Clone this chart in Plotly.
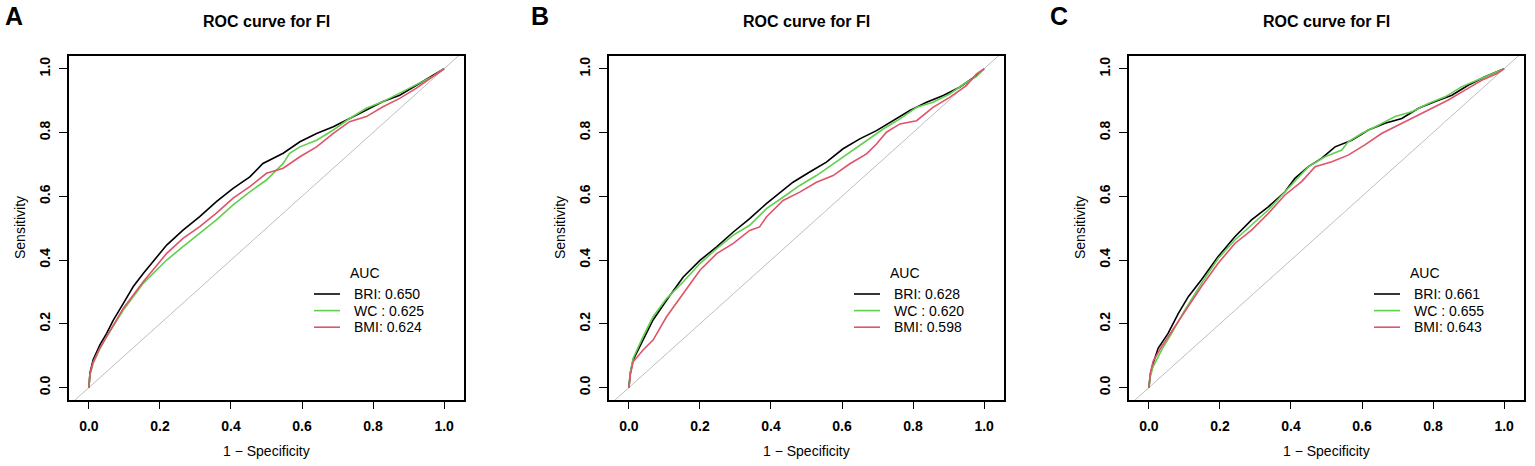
import plotly.graph_objects as go

FIG_W = 1535
FIG_H = 466
FONT = "Liberation Sans, Arial, Helvetica, sans-serif"

PANEL_LABELS = ["A", "B", "C"]
TITLE = "ROC curve for FI"
SERIES_NAMES = ["BRI", "WC ", "BMI"]
SERIES_COLORS = ["#000000", "#61D04F", "#DF536B"]

AUC_A = [0.650, 0.625, 0.624]
AUC_B = [0.628, 0.620, 0.598]
AUC_C = [0.661, 0.655, 0.643]

TICK_VALS = [0.0, 0.2, 0.4, 0.6, 0.8, 1.0]
TICK_TEXT = ["0.0", "0.2", "0.4", "0.6", "0.8", "1.0"]
DIAG = [-0.2, 1.2]

# panel A (1 - specificity, sensitivity)
A_BRI_X = [0, 0.003, 0.012, 0.022, 0.031, 0.05, 0.068, 0.097, 0.125, 0.153, 0.19, 0.219,
           0.265, 0.312, 0.359, 0.406, 0.453, 0.49, 0.547, 0.594, 0.641, 0.688, 0.734,
           0.781, 0.828, 0.875, 0.922, 0.969, 1]
A_BRI_Y = [0, 0.045, 0.087, 0.113, 0.134, 0.17, 0.21, 0.264, 0.317, 0.358, 0.41, 0.447,
           0.494, 0.536, 0.583, 0.625, 0.661, 0.703, 0.735, 0.771, 0.797, 0.818, 0.844,
           0.870, 0.897, 0.917, 0.949, 0.980, 1]
A_WC_X = [0, 0.003, 0.012, 0.03, 0.05, 0.097, 0.153, 0.219, 0.265, 0.312, 0.359, 0.406,
          0.453, 0.5, 0.547, 0.565, 0.594, 0.641, 0.688, 0.734, 0.781, 0.828, 0.875, 0.922,
          0.969, 1]
A_WC_Y = [0, 0.04, 0.076, 0.12, 0.16, 0.243, 0.327, 0.40, 0.442, 0.484, 0.526, 0.573,
          0.614, 0.651, 0.703, 0.735, 0.755, 0.776, 0.808, 0.844, 0.876, 0.897, 0.923,
          0.949, 0.977, 1]
A_BMI_X = [0, 0.003, 0.012, 0.03, 0.05, 0.097, 0.153, 0.219, 0.265, 0.312, 0.359, 0.406,
           0.453, 0.5, 0.547, 0.594, 0.641, 0.688, 0.734, 0.781, 0.828, 0.875, 0.922,
           0.969, 1]
A_BMI_Y = [0, 0.042, 0.08, 0.122, 0.16, 0.249, 0.332, 0.421, 0.468, 0.505, 0.547, 0.594,
           0.630, 0.672, 0.688, 0.724, 0.755, 0.797, 0.834, 0.85, 0.881, 0.907, 0.939,
           0.975, 1]

# panel B
B_BRI_X = [0, 0.004, 0.012, 0.04, 0.068, 0.106, 0.153, 0.2, 0.247, 0.294, 0.34, 0.387,
           0.434, 0.462, 0.509, 0.556, 0.603, 0.65, 0.697, 0.744, 0.791, 0.838, 0.885,
           0.931, 0.978, 1]
B_BRI_Y = [0, 0.045, 0.087, 0.149, 0.212, 0.274, 0.347, 0.399, 0.441, 0.488, 0.53, 0.577,
           0.618, 0.644, 0.676, 0.707, 0.749, 0.78, 0.806, 0.837, 0.869, 0.895, 0.916,
           0.942, 0.978, 1]
B_WC_X = [0, 0.004, 0.012, 0.04, 0.068, 0.106, 0.153, 0.2, 0.247, 0.294, 0.34, 0.387,
          0.434, 0.481, 0.528, 0.575, 0.622, 0.669, 0.716, 0.763, 0.81, 0.856, 0.903, 0.95,
          0.978, 1]
B_WC_Y = [0, 0.048, 0.092, 0.16, 0.222, 0.279, 0.332, 0.389, 0.436, 0.478, 0.509, 0.561,
          0.597, 0.634, 0.665, 0.702, 0.738, 0.775, 0.811, 0.843, 0.879, 0.895, 0.921,
          0.957, 0.975, 1]
B_BMI_X = [0, 0.004, 0.012, 0.04, 0.068, 0.106, 0.153, 0.2, 0.247, 0.294, 0.34, 0.368,
           0.387, 0.434, 0.481, 0.528, 0.575, 0.622, 0.669, 0.697, 0.725, 0.763, 0.81,
           0.856, 0.903, 0.95, 0.978, 1]
B_BMI_Y = [0, 0.04, 0.081, 0.118, 0.149, 0.222, 0.295, 0.368, 0.42, 0.452, 0.493, 0.504,
           0.535, 0.587, 0.613, 0.644, 0.665, 0.702, 0.733, 0.764, 0.801, 0.827, 0.837,
           0.879, 0.91, 0.947, 0.983, 1]

# panel C
C_BRI_X = [0, 0.004, 0.012, 0.026, 0.054, 0.083, 0.111, 0.148, 0.195, 0.242, 0.289, 0.336,
           0.383, 0.411, 0.449, 0.486, 0.524, 0.571, 0.618, 0.665, 0.712, 0.759, 0.806,
           0.853, 0.9, 0.946, 1]
C_BRI_Y = [0, 0.04, 0.076, 0.123, 0.17, 0.233, 0.285, 0.338, 0.411, 0.473, 0.526, 0.567,
           0.614, 0.656, 0.693, 0.719, 0.755, 0.776, 0.808, 0.829, 0.844, 0.876, 0.897,
           0.917, 0.949, 0.975, 1]
C_WC_X = [0, 0.004, 0.012, 0.036, 0.064, 0.101, 0.148, 0.195, 0.242, 0.289, 0.336, 0.383,
          0.421, 0.449, 0.496, 0.543, 0.561, 0.599, 0.646, 0.693, 0.74, 0.787, 0.834,
          0.881, 0.937, 1]
C_WC_Y = [0, 0.035, 0.066, 0.118, 0.17, 0.243, 0.327, 0.405, 0.463, 0.51, 0.557, 0.614,
          0.661, 0.693, 0.724, 0.745, 0.771, 0.797, 0.823, 0.85, 0.865, 0.891, 0.912,
          0.944, 0.97, 1]
C_BMI_X = [0, 0.004, 0.012, 0.036, 0.064, 0.101, 0.148, 0.195, 0.242, 0.289, 0.336, 0.383,
           0.43, 0.468, 0.515, 0.561, 0.608, 0.655, 0.702, 0.749, 0.796, 0.843, 0.89,
           0.937, 0.98, 1]
C_BMI_Y = [0, 0.045, 0.082, 0.129, 0.176, 0.238, 0.317, 0.39, 0.452, 0.494, 0.546, 0.604,
           0.646, 0.693, 0.708, 0.729, 0.761, 0.797, 0.823, 0.85, 0.876, 0.902, 0.933,
           0.964, 0.985, 1]

PANELS = [
    ([(A_BRI_X, A_BRI_Y), (A_WC_X, A_WC_Y), (A_BMI_X, A_BMI_Y)], AUC_A),
    ([(B_BRI_X, B_BRI_Y), (B_WC_X, B_WC_Y), (B_BMI_X, B_BMI_Y)], AUC_B),
    ([(C_BRI_X, C_BRI_Y), (C_WC_X, C_WC_Y), (C_BMI_X, C_BMI_Y)], AUC_C),
]

# layout in pixels of the 1535x466 page
BOX_LEFT = [69, 609, 1129]
BOX_W = 395
BOX_TOP = 56
BOX_BOTTOM = 400
LETTER_X = [14, 540, 1059]
X_RANGE = [-0.056, 1.056]
Y_RANGE = [-0.039, 1.04]


def px(x):
    return x / FIG_W


def py(y):
    return 1 - y / FIG_H


fig = go.Figure()
annotations = []
shapes = []
layout_axes = {}

for i, (curves, aucs) in enumerate(PANELS):
    suffix = "" if i == 0 else str(i + 1)
    xref = "x" + suffix
    yref = "y" + suffix
    left = BOX_LEFT[i]

    fig.add_trace(
        go.Scatter(
            x=DIAG, y=DIAG, mode="lines", xaxis=xref, yaxis=yref,
            line={"color": "#BEBEBE", "width": 1}, showlegend=False,
            hoverinfo="skip",
        )
    )
    for (xs, ys), name, color in zip(curves, SERIES_NAMES, SERIES_COLORS):
        fig.add_trace(
            go.Scatter(
                x=xs, y=ys, mode="lines", name=name.strip(), xaxis=xref, yaxis=yref,
                line={"color": color, "width": 1.6}, showlegend=False,
            )
        )

    axis_common = dict(
        tickvals=TICK_VALS,
        ticktext=TICK_TEXT,
        ticks="outside",
        tickwidth=1.3,
        tickcolor="black",
        showline=True,
        linecolor="black",
        linewidth=1.5,
        mirror=True,
        showgrid=False,
        zeroline=False,
        fixedrange=True,
        tickfont={"family": FONT, "size": 14, "color": "black", "weight": "bold"},
    )
    layout_axes["xaxis" + suffix] = dict(
        axis_common,
        domain=[px(left), px(left + BOX_W)],
        range=X_RANGE,
        anchor=yref,
        ticklen=7,
        ticklabelstandoff=5,
    )
    layout_axes["yaxis" + suffix] = dict(
        axis_common,
        domain=[py(BOX_BOTTOM), py(BOX_TOP)],
        range=Y_RANGE,
        anchor=xref,
        ticklen=8,
        tickangle=-90,
        ticklabelstandoff=4,
    )

    center_x = left + BOX_W / 2
    annotations.append(dict(
        text="<b>" + TITLE + "</b>", x=px(center_x), y=py(22),
        font={"size": 16}, xanchor="center", yanchor="middle",
    ))
    annotations.append(dict(
        text="<b>" + PANEL_LABELS[i] + "</b>", x=px(LETTER_X[i]), y=py(16.5),
        font={"size": 25}, xanchor="center", yanchor="middle",
    ))
    annotations.append(dict(
        text="1 − Specificity", x=px(center_x), y=py(451),
        font={"size": 14}, xanchor="center", yanchor="middle",
    ))
    annotations.append(dict(
        text="Sensitivity", x=px(left - 49), y=py(228), textangle=-90,
        font={"size": 14}, xanchor="center", yanchor="middle",
    ))

    # legend drawn by hand (R style, no box)
    annotations.append(dict(
        text="AUC", x=px(left + 296), y=py(273),
        font={"size": 14}, xanchor="center", yanchor="middle",
    ))
    for k, (name, color, auc) in enumerate(zip(SERIES_NAMES, SERIES_COLORS, aucs)):
        row_y = 294 + k * 16.6
        shapes.append(dict(
            type="line", xref="paper", yref="paper",
            x0=px(left + 245), x1=px(left + 271), y0=py(row_y), y1=py(row_y),
            line={"color": color, "width": 1.6},
        ))
        annotations.append(dict(
            text=f"{name}: {auc:.3f}", x=px(left + 283), y=py(row_y),
            font={"size": 14}, xanchor="left", yanchor="middle",
        ))

for a in annotations:
    a.update(xref="paper", yref="paper", showarrow=False)

fig.update_layout(
    width=FIG_W,
    height=FIG_H,
    margin={"l": 0, "r": 0, "t": 0, "b": 0},
    paper_bgcolor="white",
    plot_bgcolor="white",
    font={"family": FONT, "color": "black"},
    showlegend=False,
    annotations=annotations,
    shapes=shapes,
    **layout_axes,
)

# the page's default body margin would push the figure 8px down and right
fig.write_html(
    "out.html",
    config={"displayModeBar": False},
    post_script="document.body.style.margin = '0';",
)
